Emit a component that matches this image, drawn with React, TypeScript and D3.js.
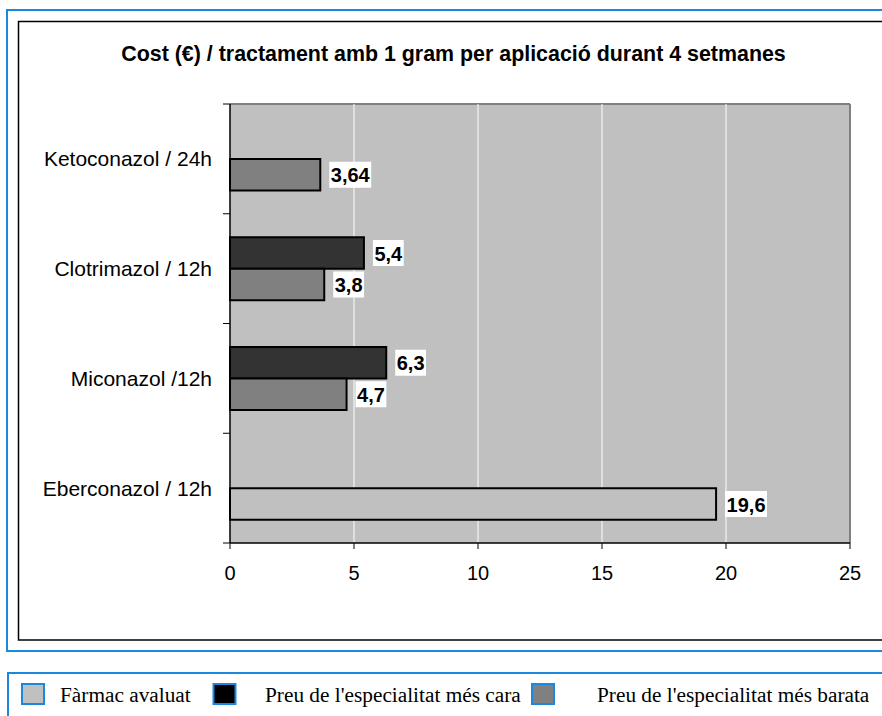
import React from "react";
import * as d3 from "d3";

const categories = ["Ketoconazol / 24h", "Clotrimazol / 12h", "Miconazol /12h", "Eberconazol / 12h"];
const caraValues: (number | null)[] = [null, 5.4, 6.3, null];
const barataValues: (number | null)[] = [3.64, 3.8, 4.7, null];
const avaluatValues: (number | null)[] = [null, null, null, 19.6];
const xTicks = [0, 5, 10, 15, 20, 25];
const legendLabels = ["Fàrmac avaluat", "Preu de l'especialitat més cara", "Preu de l'especialitat més barata"];
const title = "Cost (€) / tractament amb 1 gram per aplicació durant 4 setmanes";

const W = 882;
const H = 716;
const BLUE = "#1a88dc";
const SANS = "'Liberation Sans', Arial, sans-serif";
const SERIF = "'Liberation Serif', 'Times New Roman', serif";

const plot = { left: 230, right: 850, top: 104, bottom: 543 };

const x = d3.scaleLinear().domain([0, 25]).range([plot.left, plot.right]);
const y = d3.scaleBand<string>().domain(categories).range([plot.top, plot.bottom]).padding(0);
const slot = d3.scaleBand<string>().domain(["top", "bottom"]).range([23.5, 86.5]).padding(0);

const fmt = (v: number) => String(v).replace(".", ",");
const textWidth = (s: string, fs: number) =>
  s.split("").reduce((a, c) => a + (c === "," ? 0.278 : 0.556), 0) * fs;

type Bar = { cat: string; value: number; slotKey: string; fill: string };

const bars: Bar[] = [];
categories.forEach((c, i) => {
  const cv = caraValues[i];
  if (cv != null) bars.push({ cat: c, value: cv, slotKey: "top", fill: "#333333" });
  const bv = barataValues[i];
  if (bv != null) bars.push({ cat: c, value: bv, slotKey: "bottom", fill: "#808080" });
  const av = avaluatValues[i];
  if (av != null) bars.push({ cat: c, value: av, slotKey: "bottom", fill: "#c0c0c0" });
});

const legendFills = ["#c0c0c0", "#000000", "#808080"];
const legendSwatchX = [21, 212.5, 531];
const legendTextX = [60, 265, 597];

export default function App() {
  const bandBounds = categories.map((c) => y(c) as number).concat([plot.bottom]);
  const valueFs = 20;
  return (
    <div style={{ position: "absolute", left: 0, top: 0 }}>
      <svg width={W} height={H} style={{ display: "block", background: "#fff" }}>
        {/* outer frames */}
        <rect x={7} y={10} width={920} height={641} fill="none" stroke={BLUE} strokeWidth={2} />
        <rect x={18.5} y={21.5} width={920} height={618.5} fill="none" stroke="#000" strokeWidth={1.5} />

        {/* title */}
        <text x={453.5} y={61} textAnchor="middle" fontFamily={SANS} fontWeight="bold" fontSize={21.4} fill="#000">
          {title}
        </text>

        {/* plot area */}
        <rect x={plot.left} y={plot.top} width={plot.right - plot.left} height={plot.bottom - plot.top} fill="#c0c0c0" />
        <line x1={plot.left} x2={plot.right} y1={plot.top} y2={plot.top} stroke="#808080" strokeWidth={2} />
        <line x1={plot.right} x2={plot.right} y1={plot.top} y2={plot.bottom} stroke="#808080" strokeWidth={2} />
        {xTicks.filter((t) => t > 0 && t < 25).map((t) => (
          <line key={"g" + t} x1={x(t)} x2={x(t)} y1={plot.top} y2={plot.bottom} stroke="#ffffff" strokeWidth={1} />
        ))}

        {/* bars */}
        {bars.map((b, i) => {
          const by = (y(b.cat) as number) + (slot(b.slotKey) as number);
          return (
            <rect key={"b" + i} x={x(0)} y={by} width={x(b.value) - x(0)} height={slot.bandwidth()}
              fill={b.fill} stroke="#000" strokeWidth={2} />
          );
        })}

        {/* value labels */}
        {bars.map((b, i) => {
          const cy = (y(b.cat) as number) + (slot(b.slotKey) as number) + slot.bandwidth() / 2;
          const label = fmt(b.value);
          const tw = textWidth(label, valueFs);
          const bx = x(b.value) + 9;
          return (
            <g key={"l" + i}>
              <rect x={bx} y={cy - 13} width={tw + 3} height={26} fill="#fff" />
              <text x={bx + 1.5} y={cy + 7.5} fontFamily={SANS} fontWeight="bold" fontSize={valueFs} fill="#000">
                {label}
              </text>
            </g>
          );
        })}

        {/* y axis */}
        <line x1={plot.left} x2={plot.left} y1={plot.top} y2={plot.bottom} stroke="#000" strokeWidth={1.5} />
        {bandBounds.map((b, i) => (
          <line key={"yt" + i} x1={plot.left - 7} x2={plot.left} y1={b} y2={b} stroke="#000" strokeWidth={1} />
        ))}
        {categories.map((c) => (
          <text key={"c" + c} x={212} y={(y(c) as number) + y.bandwidth() / 2 + 7.5} textAnchor="end"
            fontFamily={SANS} fontSize={21} fill="#000">
            {c}
          </text>
        ))}

        {/* x axis */}
        <line x1={plot.left} x2={plot.right} y1={plot.bottom} y2={plot.bottom} stroke="#000" strokeWidth={1.5} />
        {xTicks.map((t) => (
          <g key={"xt" + t}>
            <line x1={x(t)} x2={x(t)} y1={plot.bottom} y2={plot.bottom + 6} stroke="#000" strokeWidth={1} />
            <text x={x(t)} y={580} textAnchor="middle" fontFamily={SANS} fontSize={20} fill="#000">
              {t}
            </text>
          </g>
        ))}

        {/* legend */}
        <rect x={8} y={673} width={920} height={80} fill="none" stroke={BLUE} strokeWidth={2} />
        {legendLabels.map((l, i) => (
          <g key={"lg" + i}>
            <rect x={legendSwatchX[i] + 1} y={684} width={22} height={20} fill={legendFills[i]} stroke={BLUE} strokeWidth={2} />
            <text x={legendTextX[i]} y={702} fontFamily={SERIF} fontSize={21.3} fill="#000">
              {l}
            </text>
          </g>
        ))}
      </svg>
    </div>
  );
}
